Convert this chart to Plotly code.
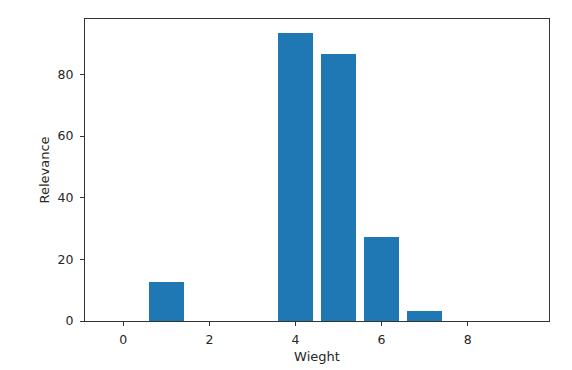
import plotly.graph_objects as go

weights = [0, 1, 2, 3, 4, 5, 6, 7, 8, 9]
relevance = [0, 12.7, 0, 0, 93.3, 86.5, 27.1, 3.2, 0, 0]
x_ticks = [0, 2, 4, 6, 8]
y_ticks = [0, 20, 40, 60, 80]

fig = go.Figure(go.Bar(x=weights, y=relevance, width=0.8,
                       marker=dict(color="#1f77b4", line=dict(width=0))))

tick_font = dict(family="DejaVu Sans", size=12.5, color="#262626")
title_font = dict(family="DejaVu Sans", size=13, color="#262626")
axis_common = dict(showline=True, mirror=True, linecolor="#333333", linewidth=1,
                   ticks="outside", ticklen=4, tickcolor="#333333",
                   showgrid=False, zeroline=False, tickfont=tick_font)

fig.update_layout(
    width=572, height=370,
    margin=dict(l=77, r=31, t=11, b=57),
    paper_bgcolor="white", plot_bgcolor="white",
    font=tick_font, showlegend=False, bargap=0,
    xaxis=dict(range=[-0.89, 9.89], tickvals=x_ticks, ticklabelstandoff=3,
               title=dict(text="Wieght", font=title_font, standoff=5), **axis_common),
    yaxis=dict(range=[0, 97.97], tickvals=y_ticks, ticklabelstandoff=4,
               title=dict(text="Relevance", font=title_font, standoff=5), **axis_common),
)

fig.write_html("out.html")
